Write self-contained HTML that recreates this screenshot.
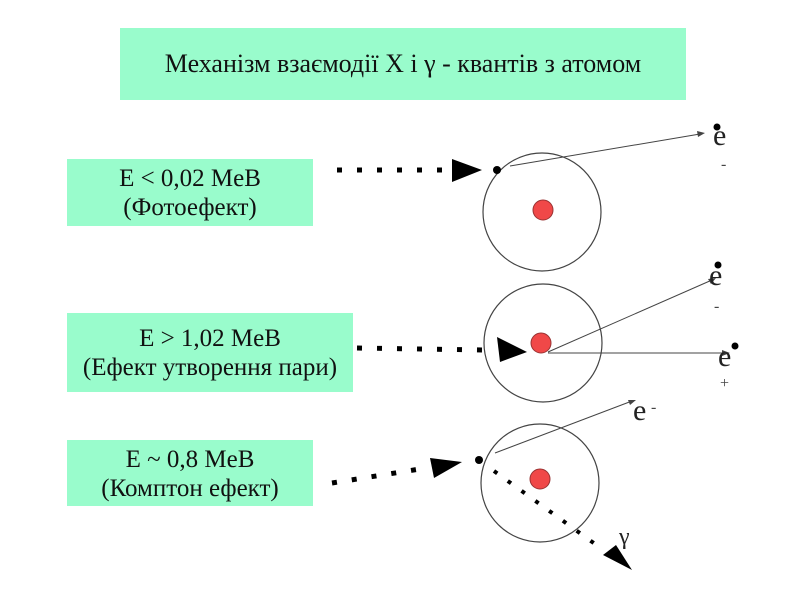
<!DOCTYPE html>
<html><head><meta charset="utf-8"><style>
body{margin:0;background:#fff;width:800px;height:600px;position:relative;overflow:hidden;font-family:"Liberation Serif","Times New Roman","DejaVu Serif",serif;}
.b{position:absolute;background:#99fccc;color:#111;text-align:center;font-size:25px;line-height:29px;box-sizing:border-box;white-space:nowrap;}
</style></head><body>
<div class="b" style="left:120px;top:28px;width:566px;height:72px;line-height:72px;font-size:26px;">Механізм взаємодії X і γ - квантів з атомом</div>
<div class="b" style="left:67px;top:159px;width:246px;height:67px;padding-top:5px;">E &lt; 0,02 MeB<br>(Фотоефект)</div>
<div class="b" style="left:67px;top:313px;width:286px;height:79px;padding-top:11px;">E &gt; 1,02 MeB<br>(Ефект утворення пари)</div>
<div class="b" style="left:67px;top:440px;width:246px;height:66px;padding-top:5px;">E ~ 0,8 MeB<br>(Комптон ефект)</div>
<svg width="800" height="600" style="position:absolute;left:0;top:0" font-family="Liberation Serif, Times New Roman, serif">
<g fill="none" stroke="#444" stroke-width="1.2">
<circle cx="542" cy="212" r="59"/>
<circle cx="543" cy="343" r="59"/>
<circle cx="540" cy="483" r="59"/>
</g>
<g fill="#f04848" stroke="#933" stroke-width="1">
<circle cx="543" cy="210" r="10"/>
<circle cx="541" cy="343" r="10"/>
<circle cx="540" cy="479" r="10"/>
</g>
<g stroke="#000" stroke-width="5" stroke-dasharray="5 15">
<line x1="337" y1="170" x2="450" y2="170"/>
<line x1="357" y1="348" x2="485" y2="350"/>
<line x1="332" y1="483" x2="420" y2="469"/>
</g>
<g stroke="#000" stroke-width="4" stroke-dasharray="4 13">
<line x1="494" y1="471" x2="595" y2="544"/>
</g>
<g fill="#000">
<polygon points="452,159 482,170 452,182"/>
<polygon points="497,337 527,352 500,362"/>
<polygon points="430,458 462,462 434,478"/>
<polygon points="603,555 616,545 632,570"/>
<circle cx="497" cy="170" r="4"/>
<circle cx="479" cy="460" r="4"/>
<circle cx="717" cy="127" r="3.5"/>
<circle cx="718" cy="265" r="3.5"/>
<circle cx="735" cy="346" r="3.5"/>
</g>
<g stroke="#444" stroke-width="1">
<line x1="510" y1="166" x2="700" y2="134"/>
<line x1="548" y1="352" x2="712" y2="280"/>
<line x1="548" y1="353" x2="726" y2="353"/>
<line x1="495" y1="453" x2="632" y2="401"/>
</g>
<g fill="#444">
<polygon points="705,133 697,131 698,137"/>
<polygon points="716,278 708,279 711,284"/>
<polygon points="730,353 722,350 722,356"/>
<polygon points="636,400 628,400 630,405"/>
</g>
<g font-size="30" fill="#222">
<text x="713" y="145">e</text>
<text x="709" y="285">e</text>
<text x="718" y="366">e</text>
<text x="633" y="420">e</text>
<text x="619" y="544" font-size="24">γ</text>
</g>
<g font-size="16" fill="#444">
<text x="721" y="169">-</text>
<text x="714" y="311">-</text>
<text x="720" y="388">+</text>
<text x="651" y="412">-</text>
</g>
</svg>
</body></html>
